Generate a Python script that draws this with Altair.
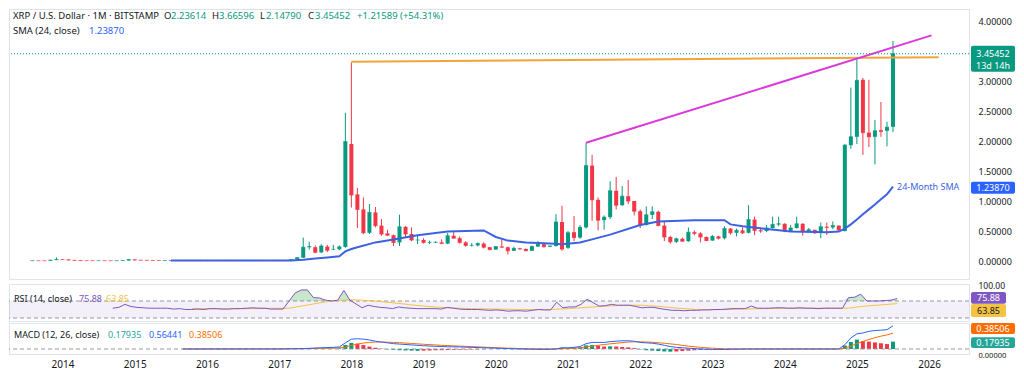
import altair as alt
import pandas as pd

FONT = "Noto Sans"
GREEN = "#089981"
RED = "#F23645"
BLUE = "#2962FF"
SMA_BLUE = "#3d62e0"
PURPLE = "#7E57C2"
YELLOW = "#F5C342"
ORANGE = "#FF6D00"
TEAL = "#26A69A"
TEXT = "#131722"

# ---------------- monthly candles, Aug 2013 .. Jul 2025 (month index 0 = Jan 2014)
first_month = -5
opens = [
    0.0052, 0.0055, 0.0051, 0.0049, 0.0150,
    0.0240, 0.0235, 0.0160, 0.0112, 0.0062, 0.0057, 0.0054, 0.0056, 0.0052, 0.0048, 0.0052, 0.0080,
    0.0240, 0.0160, 0.0130, 0.0110, 0.0094, 0.0084, 0.0084, 0.0079, 0.0064, 0.0069, 0.0055, 0.0054,
    0.0061, 0.0058, 0.0081, 0.0072, 0.0064, 0.0063, 0.0063, 0.0058, 0.0061, 0.0069, 0.0067, 0.0079,
    0.0064, 0.0063, 0.0070, 0.0220, 0.0550, 0.2300, 0.2300, 0.1450, 0.2400, 0.1950, 0.1950, 0.2350,
    1.95, 1.11, 0.86, 0.47, 0.81, 0.59, 0.46, 0.43, 0.31, 0.57, 0.45, 0.35,
    0.35, 0.31, 0.31, 0.31, 0.29, 0.42, 0.38, 0.31, 0.26, 0.26, 0.29, 0.23,
    0.19, 0.24, 0.23, 0.17, 0.21, 0.20, 0.17, 0.24, 0.28, 0.24, 0.25, 0.65,
    0.22, 0.48, 0.39, 0.56, 1.59, 1.02, 0.68, 0.73, 1.17, 0.93, 1.08, 1.00,
    0.83, 0.60, 0.77, 0.82, 0.59, 0.40, 0.32, 0.37, 0.33, 0.48, 0.46, 0.40,
    0.34, 0.41, 0.38, 0.54, 0.47, 0.51, 0.47, 0.69, 0.51, 0.50, 0.55, 0.61,
    0.62, 0.50, 0.55, 0.62, 0.50, 0.52, 0.47, 0.57, 0.56, 0.59, 0.50, 1.93,
    2.07, 3.02, 2.14, 2.07, 2.18, 2.17, 2.23614,
]
highs = [
    0.0062, 0.0064, 0.0058, 0.0170, 0.0600,
    0.0330, 0.0260, 0.0180, 0.0130, 0.0068, 0.0062, 0.0060, 0.0061, 0.0056, 0.0058, 0.0090, 0.0280,
    0.0260, 0.0180, 0.0140, 0.0120, 0.0098, 0.0090, 0.0088, 0.0082, 0.0078, 0.0072, 0.0058, 0.0064,
    0.0066, 0.0090, 0.0090, 0.0074, 0.0068, 0.0072, 0.0066, 0.0064, 0.0075, 0.0072, 0.0095, 0.0082,
    0.0072, 0.0080, 0.0300, 0.0650, 0.3900, 0.3200, 0.2600, 0.2800, 0.2700, 0.2700, 0.2600, 2.4700,
    3.31, 1.22, 1.06, 0.95, 0.90, 0.70, 0.52, 0.44, 0.77, 0.58, 0.56, 0.43,
    0.38, 0.34, 0.33, 0.36, 0.47, 0.50, 0.41, 0.33, 0.30, 0.31, 0.31, 0.23,
    0.25, 0.35, 0.24, 0.24, 0.22, 0.21, 0.26, 0.33, 0.28, 0.26, 0.78, 0.92,
    0.50, 0.75, 0.60, 1.97, 1.77, 1.06, 0.76, 1.33, 1.40, 1.25, 1.35, 1.00,
    0.86, 0.91, 0.91, 0.84, 0.66, 0.42, 0.39, 0.39, 0.56, 0.51, 0.48, 0.41,
    0.43, 0.42, 0.58, 0.55, 0.54, 0.56, 0.93, 0.74, 0.54, 0.60, 0.74, 0.74,
    0.63, 0.60, 0.74, 0.63, 0.55, 0.52, 0.64, 0.64, 0.66, 0.59, 1.95, 2.89,
    3.39, 3.05, 3.02, 2.35, 2.65, 2.32, 3.66596,
]
lows = [
    0.0046, 0.0048, 0.0045, 0.0046, 0.0140,
    0.0200, 0.0140, 0.0100, 0.0058, 0.0052, 0.0049, 0.0050, 0.0048, 0.0041, 0.0045, 0.0050, 0.0076,
    0.0140, 0.0120, 0.0100, 0.0088, 0.0078, 0.0080, 0.0072, 0.0052, 0.0058, 0.0050, 0.0050, 0.0052,
    0.0055, 0.0056, 0.0070, 0.0062, 0.0058, 0.0058, 0.0056, 0.0056, 0.0058, 0.0064, 0.0066, 0.0062,
    0.0060, 0.0058, 0.0065, 0.0200, 0.0500, 0.1900, 0.1300, 0.1300, 0.1500, 0.1850, 0.1800, 0.2200,
    0.89, 0.55, 0.45, 0.45, 0.56, 0.42, 0.42, 0.25, 0.25, 0.40, 0.33, 0.28,
    0.29, 0.28, 0.30, 0.29, 0.28, 0.38, 0.29, 0.24, 0.24, 0.24, 0.21, 0.18,
    0.19, 0.22, 0.11, 0.17, 0.19, 0.17, 0.17, 0.24, 0.22, 0.23, 0.24, 0.17,
    0.20, 0.33, 0.37, 0.54, 0.67, 0.51, 0.52, 0.70, 0.86, 0.92, 0.95, 0.76,
    0.55, 0.59, 0.70, 0.58, 0.33, 0.29, 0.30, 0.32, 0.32, 0.43, 0.31, 0.33,
    0.34, 0.36, 0.36, 0.44, 0.41, 0.45, 0.46, 0.43, 0.47, 0.48, 0.54, 0.58,
    0.48, 0.49, 0.54, 0.42, 0.48, 0.45, 0.38, 0.43, 0.53, 0.49, 0.49, 1.87,
    1.95, 1.77, 1.90, 1.61, 2.07, 1.91, 2.14790,
]
closes = [
    0.0055, 0.0051, 0.0049, 0.0150, 0.0240,
    0.0235, 0.0160, 0.0112, 0.0062, 0.0057, 0.0054, 0.0056, 0.0052, 0.0048, 0.0052, 0.0080, 0.0240,
    0.0160, 0.0130, 0.0110, 0.0094, 0.0084, 0.0084, 0.0079, 0.0064, 0.0069, 0.0055, 0.0054, 0.0061,
    0.0058, 0.0081, 0.0072, 0.0064, 0.0063, 0.0063, 0.0058, 0.0061, 0.0069, 0.0067, 0.0079, 0.0064,
    0.0063, 0.0070, 0.0220, 0.0550, 0.2300, 0.2400, 0.1450, 0.2500, 0.1800, 0.1950, 0.2350, 1.9900,
    1.10, 0.86, 0.47, 0.81, 0.59, 0.45, 0.43, 0.31, 0.57, 0.45, 0.35, 0.35,
    0.31, 0.31, 0.31, 0.29, 0.42, 0.38, 0.31, 0.26, 0.26, 0.29, 0.23, 0.19,
    0.24, 0.23, 0.17, 0.21, 0.20, 0.17, 0.24, 0.28, 0.24, 0.25, 0.65, 0.20,
    0.47, 0.39, 0.56, 1.59, 1.02, 0.68, 0.73, 1.17, 0.93, 1.08, 1.00, 0.83,
    0.60, 0.77, 0.82, 0.59, 0.40, 0.32, 0.37, 0.33, 0.48, 0.46, 0.40, 0.34,
    0.41, 0.38, 0.54, 0.47, 0.51, 0.47, 0.69, 0.51, 0.50, 0.55, 0.61, 0.62,
    0.50, 0.55, 0.62, 0.50, 0.52, 0.47, 0.57, 0.56, 0.59, 0.52, 1.93, 2.07,
    3.01, 2.14, 2.07, 2.17, 2.16, 2.23, 3.45452,
]

# 24-month SMA
sma_months = [18, 24, 30, 36, 38, 40, 42, 44, 46, 47, 48, 49, 52, 55, 59, 64, 70, 72, 74, 77, 81, 83,
              86, 88, 91, 96, 99, 105, 110, 111, 113, 116, 121, 127, 129, 130, 131, 132, 133, 134,
              135, 136, 137, 138]
sma_vals = [0.008, 0.009, 0.008, 0.007, 0.008, 0.02, 0.04, 0.06, 0.08, 0.16, 0.20, 0.23, 0.31, 0.36,
            0.43, 0.49, 0.51, 0.40, 0.34, 0.31, 0.29, 0.28, 0.31, 0.36, 0.44, 0.60, 0.66, 0.68, 0.68,
            0.61, 0.58, 0.545, 0.49, 0.48, 0.49, 0.54, 0.61, 0.69, 0.78, 0.86, 0.94, 1.03, 1.11, 1.2387]

# trend lines (month index, price)
res_months = [48, 145.6]
res_vals = [3.32, 3.397]
tl_months = [87, 144.4]
tl_vals = [1.97, 3.76]
last_close = 3.45452
last_sma = 1.2387

# RSI (14) monthly from Oct 2014
rsi_first = 9
rsi_vals = [
    53, 55, 62,
    57, 55, 54, 53, 53, 53, 53, 51, 52, 50, 50, 51,
    50, 52, 52, 51, 51, 52, 52, 53, 54, 53, 53, 51,
    51, 51, 70, 89, 96, 96, 78, 77, 72, 70, 72, 95,
    72, 63, 54, 60, 57, 55, 54, 52, 56, 54, 53, 52,
    52, 52, 52, 51, 55, 53, 51, 50, 50, 50, 49, 48,
    49, 48, 46, 47, 47, 46, 48, 50, 49, 49, 67, 54,
    56, 56, 62, 74, 66, 58, 59, 62, 60, 60, 60, 57,
    54, 55, 55, 52, 50, 48, 48, 47, 48, 48, 49, 49,
    50, 50, 51, 52, 52, 52, 58, 53, 53, 53, 54, 54,
    53, 53, 54, 53, 53, 52, 53, 53, 53, 53, 78, 79,
    86, 70, 70, 70, 71, 72, 75.88,
]
rsima_months = [22, 28, 34, 38, 40, 42, 44, 46, 48, 50, 52, 55, 58, 61, 64, 68, 72, 76, 80, 84, 87,
                90, 93, 96, 99, 102, 105, 108, 112, 116, 120, 126, 130, 131, 132, 134, 136, 138]
rsima_vals = [52, 51.5, 52.5, 53, 58, 63, 68, 71, 73, 72, 70, 66, 61, 57, 54, 52, 51, 50, 49.5, 52,
              55, 58, 60, 60, 57, 53, 50, 49.5, 51, 52, 53, 53, 53, 55, 57, 59.5, 61.5, 63.85]

# MACD (12, 26, 9)
macd_months = [20, 36, 40, 43, 45, 46, 47, 48, 49, 50, 51, 52, 53, 54, 55, 56, 58, 60, 62, 64, 66, 68,
               70, 72, 74, 76, 78, 80, 82, 83, 84, 85, 86, 87, 88, 89, 90, 91, 92, 93, 94, 95, 96, 97,
               98, 99, 100, 101, 102, 103, 104, 106, 108, 110, 114, 120, 126, 129, 130, 131, 132, 133,
               134, 135, 136, 137, 138]
macd_vals = [0.0, 0.0, 0.01, 0.03, 0.04, 0.05, 0.15, 0.24, 0.25, 0.24, 0.22, 0.19, 0.17, 0.15, 0.13,
             0.12, 0.10, 0.08, 0.065, 0.055, 0.05, 0.04, 0.03, 0.02, 0.01, 0.0, -0.005, -0.01, 0.0,
             0.03, 0.03, 0.04, 0.06, 0.13, 0.16, 0.16, 0.16, 0.18, 0.19, 0.20, 0.20, 0.19, 0.16, 0.15,
             0.14, 0.12, 0.09, 0.06, 0.04, 0.03, 0.02, 0.0, -0.01, -0.01, 0.0, 0.0, 0.0, 0.0, 0.105,
             0.27, 0.37, 0.39, 0.43, 0.45, 0.46, 0.47, 0.56441]
sig_months = [20, 40, 44, 46, 47, 48, 49, 50, 51, 52, 53, 54, 55, 56, 58, 60, 63, 66, 70, 74, 78, 82,
              84, 86, 87, 88, 90, 92, 94, 95, 96, 98, 100, 102, 104, 106, 108, 110, 114, 129, 130,
              131, 132, 133, 134, 135, 136, 137, 138]
sig_vals = [0.0, 0.005, 0.02, 0.03, 0.05, 0.09, 0.12, 0.145, 0.16, 0.17, 0.17, 0.165, 0.16, 0.155,
            0.135, 0.115, 0.09, 0.07, 0.045, 0.02, 0.005, 0.0, 0.01, 0.03, 0.05, 0.07, 0.11, 0.14,
            0.17, 0.175, 0.175, 0.165, 0.14, 0.11, 0.07, 0.04, 0.02, 0.005, 0.0, 0.0, 0.021, 0.071,
            0.131, 0.183, 0.232, 0.276, 0.313, 0.344, 0.38506]
hist_segments = [
    (44, [0.01, 0.01, 0.015, 0.10, 0.15, 0.13, 0.095, 0.06, 0.03, 0.01, -0.01, -0.02, -0.03, -0.035,
          -0.04, -0.045, -0.04, -0.035, -0.03, -0.028, -0.025, -0.02, -0.018, -0.015, -0.012, -0.01,
          -0.008]),
    (83, [0.03, 0.025, 0.03, 0.04, 0.09, 0.10, 0.08, 0.06, 0.065, 0.06, 0.05, 0.04, 0.02, -0.01, -0.03,
          -0.04, -0.05, -0.06, -0.065, -0.06, -0.05, -0.04, -0.03, -0.025, -0.02, -0.015, -0.01,
          -0.008]),
    (129, [0.0, 0.084, 0.17, 0.23, 0.19, 0.18, 0.16, 0.14, 0.12, 0.17935]),
]

year_ticks = list(range(0, 145, 12))
price_ticks = [0, 0.5, 1.0, 1.5, 2.0, 2.5, 3.0, 4.0]

# ---------------- tables ----------------
cdf = pd.DataFrame({
    "t": [first_month + i for i in range(len(closes))],
    "o": opens, "h": highs, "l": lows, "c": closes,
})
cdf["dir"] = ["up" if c >= o else "down" for o, c in zip(opens, closes)]
sma_df = pd.DataFrame({"t": sma_months, "v": sma_vals})
res_df = pd.DataFrame({"t": res_months, "v": res_vals})
tl_df = pd.DataFrame({"t": tl_months, "v": tl_vals})
rsi_df = pd.DataFrame({"t": [rsi_first + i for i in range(len(rsi_vals))], "r": rsi_vals})
rsima_df = pd.DataFrame({"t": rsima_months, "v": rsima_vals})
macd_df = pd.DataFrame({"t": macd_months, "v": macd_vals})
sig_df = pd.DataFrame({"t": sig_months, "v": sig_vals})
hrows = []
for start, vals in hist_segments:
    prev = 0.0
    for i, v in enumerate(vals):
        if v >= 0:
            k = "pos_up" if v >= prev else "pos_down"
        else:
            k = "neg_down" if v < prev else "neg_up"
        hrows.append({"t": start + i, "h": v, "k": k})
        prev = v
hist_df = pd.DataFrame(hrows)
one = pd.DataFrame({"k": [0]})

# ---------------- layout ----------------
W = 960
H_P, H_R, H_M = 270, 37, 31
xs = alt.Scale(domain=[-8.06, 149.8], nice=False, zero=False)
ps = alt.Scale(domain=[-0.30, 4.20], nice=False, zero=False)
rs = alt.Scale(domain=[22.9, 110.0], nice=False, zero=False)
ms = alt.Scale(domain=[-0.122, 0.634], nice=False, zero=False)


def yaxis(values, fmt, offset=0, size=9):
    return alt.Axis(orient="right", values=values, format=fmt, domain=False, ticks=False, grid=False,
                    labelPadding=9, labelFontSize=size, labelColor=TEXT, labelFont=FONT, title=None,
                    labelOffset=offset)


AX_P = yaxis(price_ticks, ".5f")
AX_R = yaxis([100], ".2f", -3, 8.5)
AX_M = yaxis([0], ".5f", 6.5, 7.5)
AX_X = alt.Axis(values=year_ticks, labelExpr="2014 + datum.value / 12", domain=False, ticks=False,
                grid=False, labelPadding=5, labelFontSize=10, labelColor=TEXT, labelFont=FONT,
                labelFlush=False, title=None)


def X(field="t", axis=None):
    return alt.X(f"{field}:Q", scale=xs, axis=axis)


def label(text, x, y, color=TEXT, size=9, align="left", weight="normal"):
    return alt.Chart(one).mark_text(text=text, color=color, fontSize=size, align=align,
                                    baseline="middle", font=FONT, fontWeight=weight).encode(
        x=alt.value(x), y=alt.value(y))


def tag(value, scale, axis, fill, lines, top, bottom, x1=962, x2=1006, color="white"):
    d = pd.DataFrame({"v": [value]})
    layers = [alt.Chart(d).mark_rect(color=fill, yOffset=top, y2Offset=bottom, cornerRadius=2).encode(
        x=alt.value(x1), x2=alt.value(x2), y=alt.Y("v:Q", scale=scale, axis=axis), y2="v:Q")]
    for s, dy in lines:
        layers.append(alt.Chart(d).mark_text(text=s, color=color, fontSize=9, dy=dy, align="center",
                                             baseline="middle", font=FONT).encode(
            x=alt.value((x1 + x2) / 2), y=alt.Y("v:Q", scale=scale, axis=axis)))
    return layers


cdir = alt.Color("dir:N", scale=alt.Scale(domain=["up", "down"], range=[GREEN, RED]), legend=None)

# ---------------- price pane ----------------
wick = alt.Chart(cdf).mark_rule(strokeWidth=1).encode(
    x=X(), y=alt.Y("l:Q", scale=ps, axis=AX_P), y2="h:Q", color=cdir)
body = alt.Chart(cdf).mark_bar(size=4).encode(
    x=X(), y=alt.Y("o:Q", scale=ps, axis=AX_P), y2="c:Q", color=cdir)
dash = alt.Chart(cdf).mark_tick(orient="horizontal", size=4, thickness=1).encode(
    x=X(), y=alt.Y("c:Q", scale=ps, axis=AX_P), color=cdir)
sma = alt.Chart(sma_df).mark_line(color=SMA_BLUE, strokeWidth=2).encode(
    x=X(), y=alt.Y("v:Q", scale=ps, axis=AX_P))
res = alt.Chart(res_df).mark_line(color="#F2A33A", strokeWidth=2).encode(
    x=X(), y=alt.Y("v:Q", scale=ps, axis=AX_P))
tl = alt.Chart(tl_df).mark_line(color="#DB3ADB", strokeWidth=2).encode(
    x=X(), y=alt.Y("v:Q", scale=ps, axis=AX_P))
pline = alt.Chart(pd.DataFrame({"v": [last_close]})).mark_rule(
    color=GREEN, strokeDash=[1, 2], strokeWidth=1).encode(y=alt.Y("v:Q", scale=ps, axis=AX_P))
sma_note = alt.Chart(pd.DataFrame({"t": [138], "v": [last_sma]})).mark_text(
    text="24-Month SMA", color=SMA_BLUE, fontSize=9, align="left", dx=4, font=FONT).encode(
    x=X(), y=alt.Y("v:Q", scale=ps, axis=AX_P))

HS = 9.5
header = [
    label("XRP / U.S. Dollar · 1M · BITSTAMP", 4, 7, size=HS),
    label("O", 155, 7, size=HS), label("2.23614", 162, 7, GREEN, size=HS),
    label("H", 203, 7, size=HS), label("3.66596", 210, 7, GREEN, size=HS),
    label("L", 251, 7, size=HS), label("2.14790", 257, 7, GREEN, size=HS),
    label("C", 299, 7, size=HS), label("3.45452", 306, 7, GREEN, size=HS),
    label("+1.21589 (+54.31%)", 348, 7, GREEN, size=HS),
    label("SMA (24, close)", 4, 22, size=HS), label("1.23870", 80, 22, BLUE, size=HS),
]
ptags = (tag(last_close, ps, AX_P, GREEN, [("3.45452", 0), ("13d 14h", 12)], -8, 18)
         + tag(last_sma, ps, AX_P, BLUE, [("1.23870", 1)], -5, 7))

price = alt.layer(wick, body, dash, sma, res, tl, pline, sma_note, *header, *ptags).properties(
    width=W, height=H_P)

# ---------------- RSI pane ----------------
band = alt.Chart(pd.DataFrame({"a": [70], "b": [30]})).mark_rect(color=PURPLE, opacity=0.09).encode(
    x=alt.value(0), x2=alt.value(W), y=alt.Y("a:Q", scale=rs, axis=AX_R), y2="b:Q")
rlines = alt.Chart(pd.DataFrame({"v": [70, 30]})).mark_rule(
    color="#9598A1", strokeDash=[4, 3], strokeWidth=1).encode(y=alt.Y("v:Q", scale=rs, axis=AX_R))
ob = alt.Chart(rsi_df).transform_calculate(hi="max(datum.r, 70)", base="70").mark_area(
    color="#4CAF50", opacity=0.3).encode(x=X(), y=alt.Y("hi:Q", scale=rs, axis=AX_R), y2="base:Q")
rsi_line = alt.Chart(rsi_df).mark_line(color=PURPLE, strokeWidth=1).encode(
    x=X(), y=alt.Y("r:Q", scale=rs, axis=AX_R))
rsima_line = alt.Chart(rsima_df).mark_line(color=YELLOW, strokeWidth=1).encode(
    x=X(), y=alt.Y("v:Q", scale=rs, axis=AX_R))
rlabels = [label("RSI (14, close)", 5, 15), label("75.88", 70, 15, PURPLE), label("63.85", 97, 15, YELLOW)]
rtags = (tag(75.88, rs, AX_R, PURPLE, [("75.88", 0)], -6.5, 5.2, 962, 997)
         + tag(63.85, rs, AX_R, YELLOW, [("63.85", 7)], 0.5, 13.4, 962, 997, TEXT))
rsi = alt.layer(band, rlines, ob, rsima_line, rsi_line, *rlabels, *rtags).properties(width=W, height=H_R)

# ---------------- MACD pane ----------------
hcol = alt.Color("k:N", scale=alt.Scale(domain=["pos_up", "pos_down", "neg_down", "neg_up"],
                                        range=[TEAL, "#B2DFDB", "#FF5252", "#FFCDD2"]), legend=None)
hist = alt.Chart(hist_df).mark_bar(size=4).encode(
    x=X(axis=AX_X), y=alt.Y("h:Q", scale=ms, axis=AX_M), y2=alt.datum(0), color=hcol)
zero = alt.Chart(pd.DataFrame({"v": [0]})).mark_rule(
    color="#9598A1", strokeDash=[4, 3], strokeWidth=1).encode(y=alt.Y("v:Q", scale=ms, axis=AX_M))
macd_line = alt.Chart(macd_df).mark_line(color=BLUE, strokeWidth=1).encode(
    x=X(axis=AX_X), y=alt.Y("v:Q", scale=ms, axis=AX_M))
sig_line = alt.Chart(sig_df).mark_line(color=ORANGE, strokeWidth=1).encode(
    x=X(axis=AX_X), y=alt.Y("v:Q", scale=ms, axis=AX_M))
mlabels = [label("MACD (12, 26, close)", 5, 12), label("0.17935", 99, 12, TEAL),
           label("0.56441", 140, 12, BLUE), label("0.38506", 180, 12, ORANGE)]
mtags = (tag(0.38506, ms, AX_M, ORANGE, [("0.38506", -4.7)], -10.2, 0.8)
         + tag(0.17935, ms, AX_M, TEAL, [("0.17935", 1)], -4.3, 6.4))
macd = alt.layer(hist, zero, sig_line, macd_line, *mlabels, *mtags).properties(width=W, height=H_M)

chart = alt.vconcat(price, rsi, macd, spacing=0).properties(
    padding=0, background="white"
).configure(font=FONT).configure_view(stroke="#E0E3EB", strokeWidth=1)

chart.save("out.html", embed_options={"renderer": "svg", "actions": False})
